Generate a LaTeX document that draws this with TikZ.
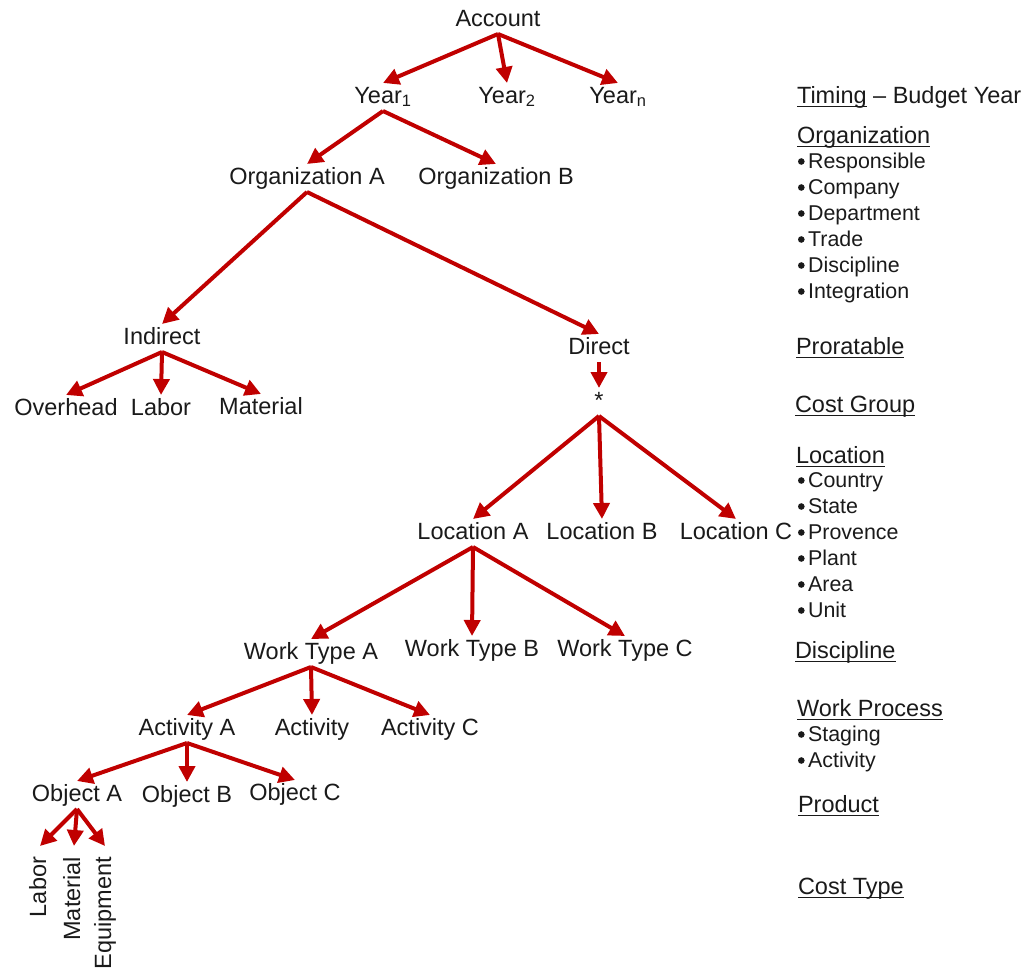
\documentclass[tikz,border=0pt]{standalone}
\usepackage{fontspec}
\setmainfont{Liberation Sans}
\usetikzlibrary{arrows.meta}
\definecolor{arrowred}{RGB}{192,0,0}
\definecolor{ink}{RGB}{26,26,26}
% underline at a fixed depth below the baseline
\newcommand\ulword[1]{\setbox0\hbox{#1}\rlap{\rule[-4pt]{\wd0}{1.4pt}}\box0\relax}
% round list bullet, centred at mid height of the capitals
\newcommand\bul{\tikz[baseline=-7pt]\fill[ink] (0,0) circle (3.3pt);\kern3.5pt}
\begin{document}
\begin{tikzpicture}[x=1pt,y=-1pt,
  lbl/.style={inner sep=0pt, outer sep=3pt, text height=17pt, text depth=5pt,
    text=ink, font=\fontsize{23.5}{28}\selectfont},
  vlbl/.style={lbl, rotate=90, anchor=east, outer sep=11pt},
  head/.style={lbl, anchor=west, outer sep=0pt},
  item/.style={inner sep=0pt, outer sep=0pt, anchor=west, text height=15.5pt,
    text depth=4.5pt, text=ink, font=\fontsize{21.4}{25}\selectfont},
  arr/.style={draw=arrowred, line width=4pt, -{Triangle[length=16pt,width=16pt]}}]
\useasboundingbox (0,0) rectangle (1033,969);

% tree
\node[lbl] (acc) at (498,20) {Account};
\node[lbl] (y1) at (383,97) {Year\textsubscript{1}};
\node[lbl] (y2) at (507,97) {Year\textsubscript{2}};
\node[lbl] (yn) at (618,97) {Year\textsubscript{n}};
\node[lbl] (orga) at (307,178) {Organization A};
\node[lbl] (orgb) at (496,178) {Organization B};
\node[lbl] (ind) at (162,338) {Indirect};
\node[lbl] (dir) at (599,348) {Direct};
\node[lbl] (ovh) at (66,409) {Overhead};
\node[lbl] (ilab) at (161,409) {Labor};
\node[lbl] (imat) at (261,408) {Material};
\node[lbl] (star) at (599,402) {*};
\node[lbl] (loca) at (473,533) {Location A};
\node[lbl] (locb) at (602,533) {Location B};
\node[lbl] (locc) at (736,533) {Location C};
\node[lbl] (wta) at (311,653) {Work Type A};
\node[lbl] (wtb) at (472,650) {Work Type B};
\node[lbl] (wtc) at (625,650) {Work Type C};
\node[lbl] (acta) at (187,729) {Activity A};
\node[lbl] (actb) at (312,729) {Activity};
\node[lbl] (actc) at (430,729) {Activity C};
\node[lbl] (obja) at (77,795) {Object A};
\node[lbl] (objb) at (187,796) {Object B};
\node[lbl] (objc) at (295,794) {Object C};
\node[vlbl] (clab) at (40,846) {Labor};
\node[vlbl] (cmat) at (74,846) {Material};
\node[vlbl] (cequ) at (105,846) {Equipment};

\foreach \p/\c in {acc/y1,acc/y2,acc/yn,y1/orga,y1/orgb,orga/ind,orga/dir,
  ind/ovh,ind/ilab,ind/imat,dir/star,star/loca,star/locb,star/locc,
  loca/wta,loca/wtb,loca/wtc,wta/acta,wta/actb,wta/actc,
  acta/obja,acta/objb,acta/objc}
  \draw[arr] (\p.south) -- (\c.north);
\foreach \c in {clab,cmat,cequ}
  \draw[arr] (obja.south) -- (\c.east);

% dimension legend
\node[head] (hTiming) at (797,97) {\ulword{Timing} – Budget Year};
\node[head] (hOrg) at (797,137) {\ulword{Organization}};
\node[item] (oResp) at (798,163) {\bul Responsible};
\node[item] (oComp) at (798,189) {\bul Company};
\node[item] (oDept) at (798,215) {\bul Department};
\node[item] (oTrade) at (798,241) {\bul Trade};
\node[item] (oDisc) at (798,267) {\bul Discipline};
\node[item] (oInt) at (798,293) {\bul Integration};
\node[head] (hPro) at (796,348) {\ulword{Proratable}};
\node[head] (hCost) at (795,406) {\ulword{Cost Group}};
\node[head] (hLoc) at (796,457) {\ulword{Location}};
\node[item] (lCountry) at (798,482) {\bul Country};
\node[item] (lState) at (798,508) {\bul State};
\node[item] (lProv) at (798,534) {\bul Provence};
\node[item] (lPlant) at (798,560) {\bul Plant};
\node[item] (lArea) at (798,586) {\bul Area};
\node[item] (lUnit) at (798,612) {\bul Unit};
\node[head] (hDisc) at (795,652) {\ulword{Discipline}};
\node[head] (hWork) at (797,710) {\ulword{Work Process}};
\node[item] (wStage) at (798,736) {\bul Staging};
\node[item] (wAct) at (798,762) {\bul Activity};
\node[head] (hProd) at (798,806) {\ulword{Product}};
\node[head] (hType) at (798,888) {\ulword{Cost Type}};
\end{tikzpicture}
\end{document}
